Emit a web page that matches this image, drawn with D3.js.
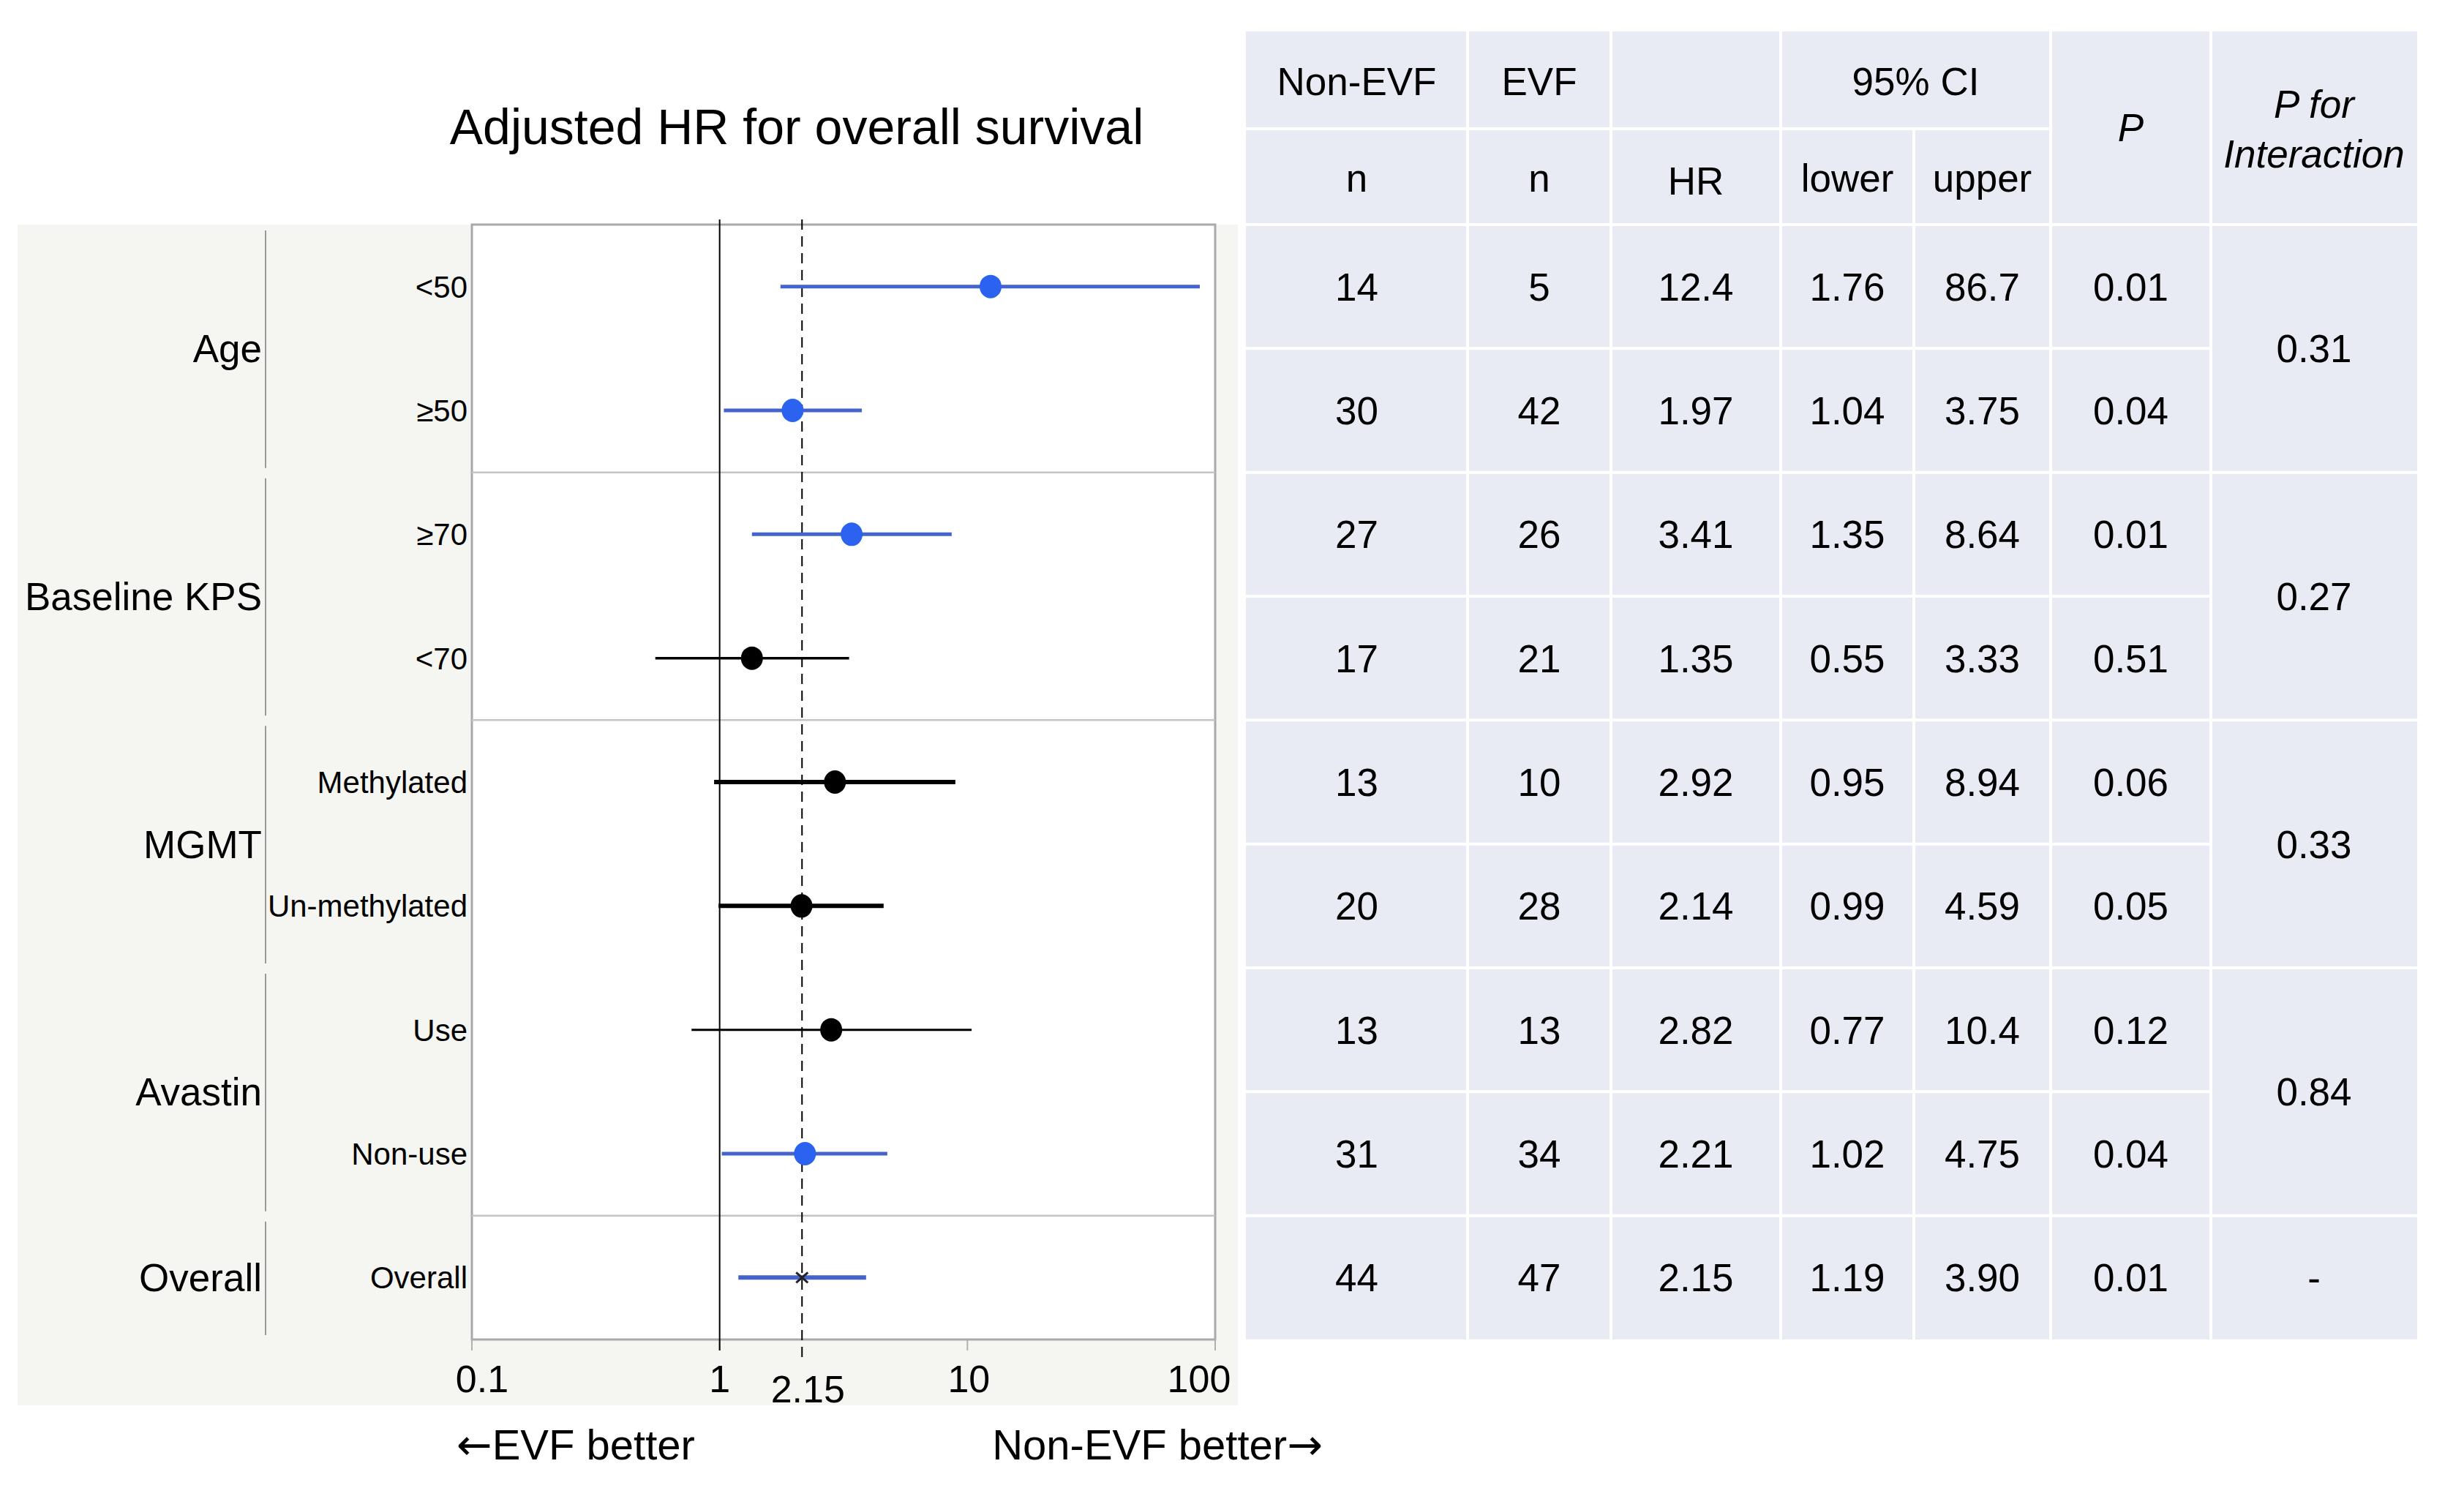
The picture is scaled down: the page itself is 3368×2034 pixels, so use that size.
<!DOCTYPE html>
<html>
<head>
<meta charset="utf-8">
<script src="https://cdn.jsdelivr.net/npm/d3@7/dist/d3.min.js"></script>
<style>
  html, body { margin: 0; padding: 0; background: #ffffff; }
  svg { display: block; }
  text { font-family: "Liberation Sans", Arial, Helvetica, sans-serif; fill: #000; }
</style>
</head>
<body>
<svg id="chart" width="3368" height="2034"></svg>
<script>
// ---------------- data ----------------
const groups = ["Age", "Baseline KPS", "MGMT", "Avastin", "Overall"];
const groupSizes = [2, 2, 2, 2, 1];
const subgroups = ["<50", "≥50", "≥70", "<70", "Methylated", "Un-methylated", "Use", "Non-use", "Overall"];
const nonEvfN = ["14", "30", "27", "17", "13", "20", "13", "31", "44"];
const evfN = ["5", "42", "26", "21", "10", "28", "13", "34", "47"];
const hrValues = ["12.4", "1.97", "3.41", "1.35", "2.92", "2.14", "2.82", "2.21", "2.15"];
const ciLower = ["1.76", "1.04", "1.35", "0.55", "0.95", "0.99", "0.77", "1.02", "1.19"];
const ciUpper = ["86.7", "3.75", "8.64", "3.33", "8.94", "4.59", "10.4", "4.75", "3.90"];
const pValues = ["0.01", "0.04", "0.01", "0.51", "0.06", "0.05", "0.12", "0.04", "0.01"];
const pInteraction = ["0.31", "0.27", "0.33", "0.84", "-"];
const xTicks = [0.1, 1, 10, 100];
const xTickLabels = ["0.1", "1", "10", "100"];
const overallHR = 2.15;

// ---------------- layout ----------------
const svg = d3.select("#chart");
const plotL = 645, plotR = 1661, plotT = 307, plotB = 1831;
const BLUE_LINE = "#4463cc", BLUE_DOT = "#2c62f0";

const x = d3.scaleLog().domain([0.1, 100]).range([plotL, plotR]);
const y = d3.scaleBand().domain(d3.range(subgroups.length)).range([plotT, plotB]).padding(0);
const bw = y.bandwidth();
const yc = i => y(i) + bw / 2;

// group extents
let acc = 0;
const groupRanges = groupSizes.map(s => { const r = [acc, acc + s - 1]; acc += s; return r; });
const gTop = g => y(groupRanges[g][0]);
const gBot = g => y(groupRanges[g][1]) + bw;

// ---------------- left grey panel ----------------
svg.append("rect").attr("x", 24).attr("y", plotT).attr("width", 1692 - 24).attr("height", 1921 - plotT)
  .attr("fill", "#f5f5f2");

// title
svg.append("text").attr("x", 1089).attr("y", 197).attr("text-anchor", "middle")
  .style("font-size", "68px").text("Adjusted HR for overall survival");

// plot white area
svg.append("rect").attr("x", plotL).attr("y", plotT).attr("width", plotR - plotL).attr("height", plotB - plotT)
  .attr("fill", "#ffffff").attr("stroke", "#a9a9a9").attr("stroke-width", 3);

// group separators inside plot (not between MGMT and Avastin)
const sepAfter = [0, 1, 3];
svg.selectAll("line.sep").data(sepAfter).enter().append("line")
  .attr("x1", plotL).attr("x2", plotR)
  .attr("y1", g => gBot(g)).attr("y2", g => gBot(g))
  .attr("stroke", "#c4c4c4").attr("stroke-width", 2.5);

// group vertical bracket lines
svg.selectAll("line.gline").data(groups).enter().append("line")
  .attr("x1", 363).attr("x2", 363)
  .attr("y1", (d, g) => gTop(g) + 8).attr("y2", (d, g) => gBot(g) - 6)
  .attr("stroke", "#9a9a9a").attr("stroke-width", 2);

// group labels
svg.selectAll("text.group").data(groups).enter().append("text")
  .attr("x", 358).attr("y", (d, g) => (gTop(g) + gBot(g)) / 2).attr("dy", "0.36em")
  .attr("text-anchor", "end").style("font-size", "53px").text(d => d);

// subgroup labels
svg.selectAll("text.sub").data(subgroups).enter().append("text")
  .attr("x", 639).attr("y", (d, i) => yc(i)).attr("dy", "0.36em")
  .attr("text-anchor", "end").style("font-size", "42px").text(d => d);

// x axis ticks
svg.selectAll("line.tick").data(xTicks).enter().append("line")
  .attr("x1", d => x(d)).attr("x2", d => x(d)).attr("y1", plotB).attr("y2", plotB + 15)
  .attr("stroke", "#b0b0b0").attr("stroke-width", 2);
const tickShift = [14, 0, 2, -22];
svg.selectAll("text.tick").data(xTicks).enter().append("text")
  .attr("x", (d, i) => x(d) + tickShift[i]).attr("y", 1903).attr("text-anchor", "middle")
  .style("font-size", "52px").text((d, i) => xTickLabels[i]);
svg.append("text").attr("x", x(overallHR) + 8).attr("y", 1917).attr("text-anchor", "middle")
  .style("font-size", "52px").text("2.15");

// reference lines
svg.append("line").attr("x1", x(1)).attr("x2", x(1)).attr("y1", 300).attr("y2", 1846)
  .attr("stroke", "#000").attr("stroke-width", 2);
svg.append("line").attr("x1", x(overallHR)).attr("x2", x(overallHR)).attr("y1", 300).attr("y2", 1862)
  .attr("stroke", "#000").attr("stroke-width", 2).attr("stroke-dasharray", "14,9");

// CI lines and points
const lineWidths = [5, 5, 5, 3.5, 6, 6, 3, 5, 6];
const isSig = i => +pValues[i] < 0.05;
const rows = d3.range(subgroups.length);
svg.selectAll("line.ci").data(rows).enter().append("line")
  .attr("x1", i => x(+ciLower[i])).attr("x2", i => x(+ciUpper[i]))
  .attr("y1", i => yc(i)).attr("y2", i => yc(i))
  .attr("stroke", i => isSig(i) ? BLUE_LINE : "#000")
  .attr("stroke-width", (i) => lineWidths[i]);
svg.selectAll("ellipse.pt").data(rows.filter(i => subgroups[i] !== "Overall")).enter().append("ellipse")
  .attr("cx", i => x(+hrValues[i])).attr("cy", i => yc(i)).attr("rx", 15).attr("ry", 16)
  .attr("fill", i => isSig(i) ? BLUE_DOT : "#000");
// overall marker (small x)
const oi = subgroups.length - 1;
const ox = x(+hrValues[oi]), oy = yc(oi);
svg.append("path").attr("d", `M${ox-8},${oy-7}L${ox+8},${oy+7}M${ox-8},${oy+7}L${ox+8},${oy-7}`)
  .attr("stroke", "#222").attr("stroke-width", 3);

// direction labels
const left = svg.append("text").attr("x", 787).attr("y", 1995).attr("text-anchor", "middle")
  .style("font-size", "58px");
left.append("tspan").style("font-family", "\"DejaVu Sans\", sans-serif").text("←");
left.append("tspan").text("EVF better");
const right = svg.append("text").attr("x", 1582).attr("y", 1995).attr("text-anchor", "middle")
  .style("font-size", "58px");
right.append("tspan").text("Non-EVF better");
right.append("tspan").style("font-family", "\"DejaVu Sans\", sans-serif").text("→");

// ---------------- table ----------------
const colEdges = [1703, 2006, 2202, 2434, 2616, 2803, 3022, 3304];
const colC = k => (colEdges[k] + colEdges[k + 1]) / 2;
const tTop = 43, hMid = 176;
svg.append("rect").attr("x", colEdges[0]).attr("y", tTop).attr("width", colEdges[7] - colEdges[0])
  .attr("height", plotB - tTop).attr("fill", "#e8ebf3");

const WL = "#ffffff", WW = 4;
// vertical separators
[1, 2, 3, 5, 6].forEach(k => {
  svg.append("line").attr("x1", colEdges[k]).attr("x2", colEdges[k]).attr("y1", tTop).attr("y2", plotB)
    .attr("stroke", WL).attr("stroke-width", WW);
});
svg.append("line").attr("x1", colEdges[4]).attr("x2", colEdges[4]).attr("y1", hMid).attr("y2", plotB)
  .attr("stroke", WL).attr("stroke-width", WW);
// header mid line (cols 1-5)
svg.append("line").attr("x1", colEdges[0]).attr("x2", colEdges[5]).attr("y1", hMid).attr("y2", hMid)
  .attr("stroke", WL).attr("stroke-width", WW);
// row lines cols 1-6
d3.range(subgroups.length).forEach(i => {
  svg.append("line").attr("x1", colEdges[0]).attr("x2", colEdges[6]).attr("y1", y(i)).attr("y2", y(i))
    .attr("stroke", WL).attr("stroke-width", WW);
});
// group lines col 7
groups.forEach((g, gi) => {
  svg.append("line").attr("x1", colEdges[6]).attr("x2", colEdges[7]).attr("y1", gTop(gi)).attr("y2", gTop(gi))
    .attr("stroke", WL).attr("stroke-width", WW);
});

const TF = "53px";
function tText(xp, yp, s, italic) {
  const t = svg.append("text").attr("x", xp).attr("y", yp).attr("text-anchor", "middle")
    .style("font-size", TF).text(s);
  if (italic) t.style("font-style", "italic");
  return t;
}
// headers
tText(colC(0), 130, "Non-EVF");
tText(colC(1), 130, "EVF");
tText((colEdges[3] + colEdges[5]) / 2, 130, "95% CI");
tText(colC(0), 262, "n");
tText(colC(1), 262, "n");
tText(colC(2), 266, "HR");
tText(colC(3), 262, "lower");
tText(colC(4), 262, "upper");
tText(colC(5), 193, "P", true);
tText(colC(6), 161, "P for", true);
tText(colC(6), 229, "Interaction", true);

// body
const cols = [nonEvfN, evfN, hrValues, ciLower, ciUpper, pValues];
cols.forEach((arr, k) => {
  svg.selectAll(null).data(arr).enter().append("text")
    .attr("x", colC(k)).attr("y", (d, i) => yc(i)).attr("dy", "0.36em")
    .attr("text-anchor", "middle").style("font-size", TF).text(d => d);
});
svg.selectAll(null).data(pInteraction).enter().append("text")
  .attr("x", colC(6)).attr("y", (d, g) => (gTop(g) + gBot(g)) / 2).attr("dy", "0.36em")
  .attr("text-anchor", "middle").style("font-size", TF).text(d => d);
</script>
</body>
</html>
